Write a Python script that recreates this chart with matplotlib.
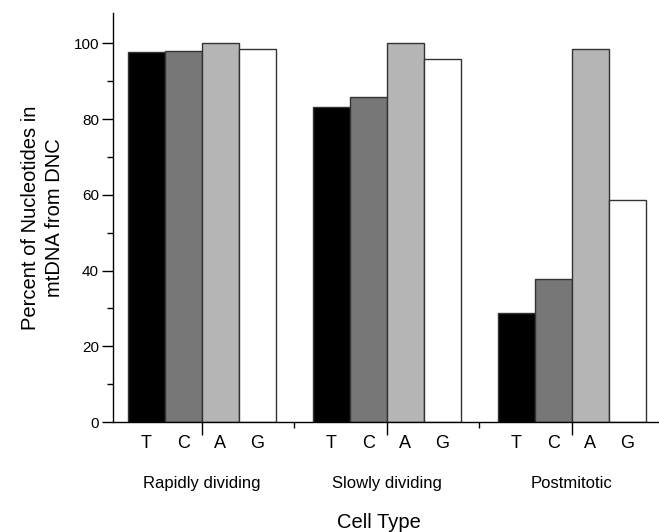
import matplotlib

matplotlib.use("Agg")
import matplotlib.pyplot as plt
import matplotlib.transforms as mtransforms
import numpy as np

plt.rcParams["font.family"] = ["Liberation Sans", "DejaVu Sans"]

GROUPS = ["Rapidly dividing", "Slowly dividing", "Postmitotic"]
NUCLEOTIDES = ["T", "C", "A", "G"]
VALUES = {
    "T": [97.6, 83.1, 28.7],
    "C": [97.9, 85.9, 37.7],
    "A": [100.0, 100.0, 98.4],
    "G": [98.4, 95.8, 58.5],
}
COLORS = {"T": "#000000", "C": "#777777", "A": "#b5b5b5", "G": "#ffffff"}

fig = plt.figure(figsize=(6.59, 5.32), dpi=100)
ax = fig.add_axes([113 / 659, 1 - 422 / 532, 545 / 659, 409 / 532])

centers = np.arange(len(GROUPS)) * 5.0
offsets = [-1.5, -0.5, 0.5, 1.5]
text_tr = mtransforms.blended_transform_factory(ax.transData, ax.transAxes)

for nuc, off in zip(NUCLEOTIDES, offsets):
    ax.bar(centers + off, VALUES[nuc], width=1.0, color=COLORS[nuc],
           edgecolor="#333333", linewidth=1.0, zorder=2)
    for c in centers:
        ax.text(c + off, -0.053, nuc, transform=text_tr, ha="center",
                va="center", fontsize=13)

for c, g in zip(centers, GROUPS):
    ax.text(c, -0.15, g, transform=text_tr, ha="center", va="center",
            fontsize=12)

ax.set_xlim(-2.4, 12.33)
ax.set_ylim(0, 108)
ax.set_yticks(range(0, 101, 20))
ax.set_yticks(range(10, 100, 20), minor=True)
ax.set_xticks(centers)
ax.set_xticks([2.5, 7.5], minor=True)
ax.set_xticklabels([])
ax.tick_params(axis="x", which="major", length=9, width=1)
ax.tick_params(axis="x", which="minor", length=4, width=1)
ax.tick_params(axis="y", which="major", length=8, width=1, pad=2, labelsize=11)
ax.tick_params(axis="y", which="minor", length=4, width=1)

for side in ("top", "right"):
    ax.spines[side].set_visible(False)
for side in ("left", "bottom"):
    ax.spines[side].set_linewidth(1.0)

ax.set_ylabel("Percent of Nucleotides in\nmtDNA from DNC", fontsize=14.5,
              labelpad=7, linespacing=1.35)
ax.text(4.8, -0.245, "Cell Type", transform=text_tr, ha="center",
        va="center", fontsize=14.5)

fig.savefig("out.png", dpi=100)
